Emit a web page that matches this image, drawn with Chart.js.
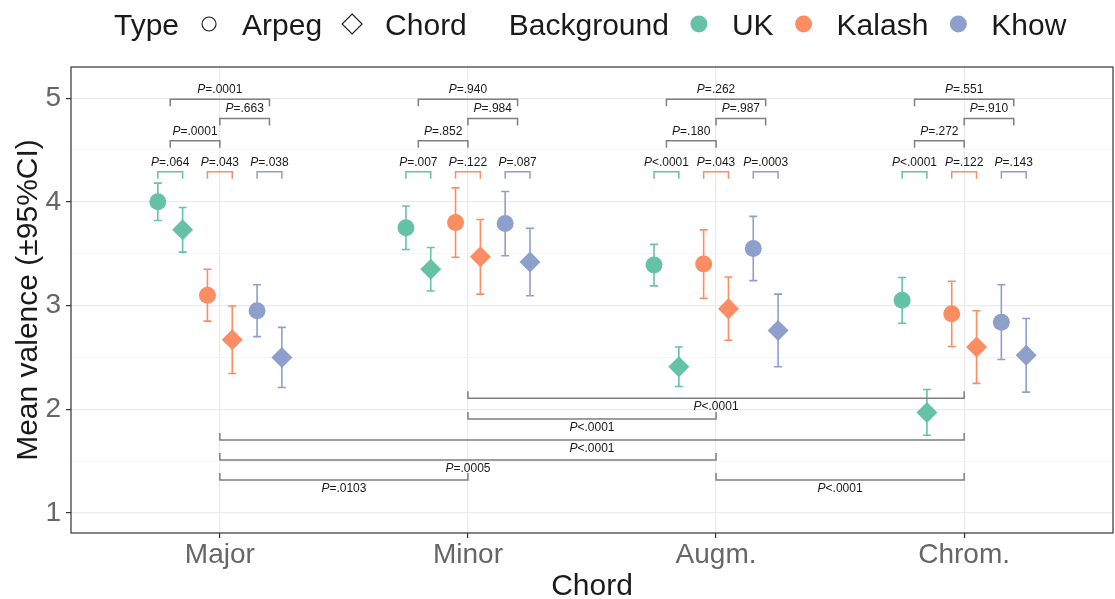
<!DOCTYPE html>
<html>
<head>
<meta charset="utf-8">
<title>Mean valence by chord</title>
<script src="https://cdn.jsdelivr.net/npm/chart.js"></script>
<style>
  html, body { margin: 0; padding: 0; background: #fff; overflow: hidden; }
  #wrap { width: 1115px; height: 599px; }
  canvas { display: block; }
</style>
</head>
<body>
<div id="wrap"><canvas id="myChart" width="1115" height="599"></canvas></div>
<script>
// categories on the x axis
const categories = ['Major', 'Minor', 'Augm.', 'Chrom.']
const backgrounds = ['UK', 'Kalash', 'Khow']
const types = ['Arpeg', 'Chord']
const yTicks = [1, 2, 3, 4, 5]

// mean valence, one value per chord
const ukArpeg     = [4.00, 3.75, 3.39, 3.05]
const ukChord     = [3.73, 3.35, 2.41, 1.97]
const kalashArpeg = [3.10, 3.80, 3.40, 2.92]
const kalashChord = [2.67, 3.47, 2.97, 2.60]
const khowArpeg   = [2.95, 3.79, 3.55, 2.84]
const khowChord   = [2.50, 3.42, 2.76, 2.52]

// half width of the 95% CI
const ukArpegCI     = [0.18, 0.21, 0.20, 0.22]
const ukChordCI     = [0.215, 0.21, 0.19, 0.22]
const kalashArpegCI = [0.25, 0.335, 0.33, 0.315]
const kalashChordCI = [0.325, 0.36, 0.305, 0.35]
const khowArpegCI   = [0.25, 0.31, 0.31, 0.36]
const khowChordCI   = [0.29, 0.325, 0.35, 0.355]

// p values inside each chord
const pUK          = ['P=.064', 'P=.007', 'P<.0001', 'P<.0001']
const pKalash      = ['P=.043', 'P=.122', 'P=.043', 'P=.122']
const pKhow        = ['P=.038', 'P=.087', 'P=.0003', 'P=.143']
const pUKKalash    = ['P=.0001', 'P=.852', 'P=.180', 'P=.272']
const pKalashKhow  = ['P=.663', 'P=.984', 'P=.987', 'P=.910']
const pUKKhow      = ['P=.0001', 'P=.940', 'P=.262', 'P=.551']

// p values between chords (1 = Major ... 4 = Chrom.)
const chordFrom   = [2, 2, 1, 1, 1, 3]
const chordTo     = [4, 3, 4, 3, 2, 4]
const chordLevel  = [2.106, 1.906, 1.704, 1.511, 1.318, 1.318]
const chordP      = ['P<.0001', 'P<.0001', 'P<.0001', 'P=.0005', 'P=.0103', 'P<.0001']

const colors = ['#66C2A5', '#FC8D62', '#8DA0CB']
const dodge = [-0.25, -0.15, -0.05, 0.05, 0.15, 0.25]
const FONT = '"Liberation Sans", Arial, Helvetica, sans-serif'

const series = [
  [ukArpeg, ukArpegCI], [ukChord, ukChordCI],
  [kalashArpeg, kalashArpegCI], [kalashChord, kalashChordCI],
  [khowArpeg, khowArpegCI], [khowChord, khowChordCI]
]

const datasets = series.map(([mean, ci], k) => {
  const bg = Math.floor(k / 2), type = k % 2
  return {
    label: backgrounds[bg] + ' ' + types[type],
    data: categories.map((c, i) => ({ x: i + 1 + dodge[k], y: mean[i], ci: ci[i] })),
    backgroundColor: colors[bg],
    borderWidth: 0,
    pointStyle: type === 0 ? 'circle' : 'rectRot',
    pointRadius: type === 0 ? 8.5 : 10.5,
    pointHoverRadius: type === 0 ? 8.5 : 10.5
  }
})

// P label with italic P
function pText(ctx, text, cx, y) {
  const it = 'italic 12px ' + FONT, rg = '12px ' + FONT
  ctx.font = it
  const w1 = ctx.measureText(text[0]).width
  ctx.font = rg
  const w2 = ctx.measureText(text.slice(1)).width
  const x0 = cx - (w1 + w2) / 2
  ctx.textAlign = 'left'
  ctx.textBaseline = 'alphabetic'
  ctx.fillStyle = '#1a1a1a'
  ctx.font = it
  ctx.fillText(text[0], x0, y)
  ctx.font = rg
  ctx.fillText(text.slice(1), x0 + w1, y)
}

function bracket(ctx, x, y, x1, x2, lvl, dir, color, label) {
  const px1 = x.getPixelForValue(x1), px2 = x.getPixelForValue(x2)
  const py = y.getPixelForValue(lvl)
  ctx.strokeStyle = color
  ctx.lineWidth = 1.5
  ctx.beginPath()
  ctx.moveTo(px1, py + dir * 7)
  ctx.lineTo(px1, py)
  ctx.lineTo(px2, py)
  ctx.lineTo(px2, py + dir * 7)
  ctx.stroke()
  // labels above the top brackets, below the bottom ones
  pText(ctx, label, (px1 + px2) / 2, dir > 0 ? py - 6 : py + 12)
}

const errorBars = {
  id: 'errorBars',
  beforeDatasetsDraw(chart) {
    const { ctx, scales: { x, y } } = chart
    ctx.save()
    chart.data.datasets.forEach(ds => {
      ctx.strokeStyle = ds.backgroundColor
      ctx.lineWidth = 1.6
      ds.data.forEach(p => {
        const px = x.getPixelForValue(p.x)
        const top = y.getPixelForValue(p.y + p.ci), bot = y.getPixelForValue(p.y - p.ci)
        ctx.beginPath()
        ctx.moveTo(px, top); ctx.lineTo(px, bot)
        ctx.moveTo(px - 4, top); ctx.lineTo(px + 4, top)
        ctx.moveTo(px - 4, bot); ctx.lineTo(px + 4, bot)
        ctx.stroke()
      })
    })
    ctx.restore()
  }
}

const annotations = {
  id: 'annotations',
  afterDatasetsDraw(chart) {
    const { ctx, scales: { x, y } } = chart
    ctx.save()
    const within = [pUK, pKalash, pKhow]
    categories.forEach((c, i) => {
      const cx = i + 1
      within.forEach((p, b) => {
        bracket(ctx, x, y, cx + dodge[2 * b], cx + dodge[2 * b + 1], 4.29, 1, colors[b], p[i])
      })
      bracket(ctx, x, y, cx - 0.2, cx, 4.588, 1, '#7f7f7f', pUKKalash[i])
      bracket(ctx, x, y, cx, cx + 0.2, 4.804, 1, '#7f7f7f', pKalashKhow[i])
      bracket(ctx, x, y, cx - 0.2, cx + 0.2, 4.99, 1, '#7f7f7f', pUKKhow[i])
    })
    chordFrom.forEach((f, j) => {
      bracket(ctx, x, y, f, chordTo[j], chordLevel[j], -1, '#7f7f7f', chordP[j])
    })
    ctx.restore()
  },
  afterDraw(chart) {
    const { ctx, chartArea: a } = chart
    ctx.save()
    // panel border
    ctx.strokeStyle = '#333'
    ctx.lineWidth = 1.2
    ctx.strokeRect(a.left, a.top, a.right - a.left, a.bottom - a.top)

    // axis titles
    ctx.fillStyle = '#1a1a1a'
    ctx.font = '30px ' + FONT
    ctx.textAlign = 'center'
    ctx.textBaseline = 'alphabetic'
    ctx.fillText('Chord', (a.left + a.right) / 2, 595)
    ctx.save()
    ctx.translate(37, (a.top + a.bottom) / 2)
    ctx.rotate(-Math.PI / 2)
    ctx.fillText('Mean valence (\u00b195%CI)', 0, 0)
    ctx.restore()

    // legend
    ctx.textAlign = 'left'
    const base = 35, mid = 24
    let cx = 114
    const word = t => { ctx.fillStyle = '#1a1a1a'; ctx.fillText(t, cx, base); cx += ctx.measureText(t).width }
    word('Type')
    types.forEach((t, k) => {
      cx += 30
      ctx.strokeStyle = '#1a1a1a'
      ctx.lineWidth = 1.1
      ctx.beginPath()
      if (k === 0) ctx.arc(cx, mid, 7, 0, Math.PI * 2)
      else { ctx.moveTo(cx, mid - 10); ctx.lineTo(cx + 10, mid); ctx.lineTo(cx, mid + 10); ctx.lineTo(cx - 10, mid); ctx.closePath() }
      ctx.stroke()
      cx += 33
      word(t)
    })
    cx += 42
    word('Background')
    backgrounds.forEach((t, b) => {
      cx += 30
      ctx.fillStyle = colors[b]
      ctx.beginPath()
      ctx.arc(cx, mid, 8.5, 0, Math.PI * 2)
      ctx.fill()
      cx += 33
      word(t)
    })
    ctx.restore()
  }
}

Chart.defaults.font.family = FONT

const myChart = new Chart(document.getElementById('myChart'), {
  type: 'scatter',
  data: { datasets },
  options: {
    responsive: false,
    animation: false,
    devicePixelRatio: 1,
    layout: { padding: { top: 67, right: 2, left: 0, bottom: 0 }, autoPadding: false },
    plugins: { legend: { display: false }, tooltip: { enabled: false } },
    scales: {
      x: {
        type: 'linear',
        min: 0.4,
        max: 4.6,
        afterBuildTicks: s => { s.ticks = categories.map((c, i) => ({ value: i + 1 })) },
        afterFit: s => { s.height = 66; s.paddingLeft = 0; s.paddingRight = 0 },
        ticks: {
          callback: v => categories[v - 1],
          color: '#666',
          font: { size: 28 },
          padding: 0,
          maxRotation: 0,
          autoSkip: false
        },
        grid: { color: '#EBEBEB', lineWidth: 1.2, tickColor: '#333', tickLength: 5 },
        border: { display: false }
      },
      y: {
        type: 'linear',
        min: 0.807,
        max: 5.3,
        afterBuildTicks: s => {
          const t = []
          yTicks.forEach(v => { t.push({ value: v }); if (v < 5) t.push({ value: v + 0.5 }) })
          s.ticks = t
        },
        afterFit: s => { s.width = 71; s.paddingTop = 0; s.paddingBottom = 0 },
        ticks: {
          callback: v => Number.isInteger(v) ? v : '',
          color: '#666',
          font: { size: 28 },
          padding: 5,
          autoSkip: false
        },
        grid: {
          color: c => Number.isInteger(c.tick.value) ? '#EBEBEB' : '#F3F3F3',
          lineWidth: c => Number.isInteger(c.tick.value) ? 1.2 : 0.8,
          tickColor: c => Number.isInteger(c.tick.value) ? '#333' : 'rgba(0,0,0,0)',
          tickLength: 5
        },
        border: { display: false }
      }
    }
  },
  plugins: [errorBars, annotations]
})
</script>
</body>
</html>
